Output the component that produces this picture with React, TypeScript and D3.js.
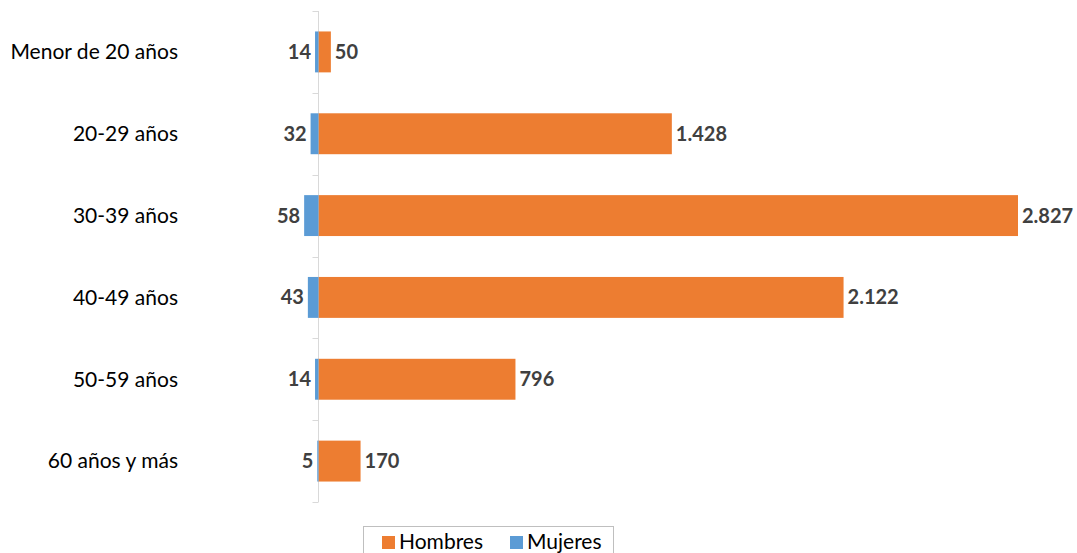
import React, { useEffect, useRef } from 'react';
import * as d3 from 'd3';

const categories = ['Menor de 20 años', '20-29 años', '30-39 años', '40-49 años', '50-59 años', '60 años y más'];
const hombres = [50, 1428, 2827, 2122, 796, 170];
const mujeres = [14, 32, 58, 43, 14, 5];
const seriesNames = ['Hombres', 'Mujeres'];

const W = 1077;
const H = 553;
const font = "Lato, 'Open Sans', sans-serif";

export default function App() {
  const ref = useRef<SVGSVGElement>(null);

  useEffect(() => {
    if (!ref.current) return;
    const svg = d3.select(ref.current);
    svg.selectAll('*').remove();

    const zero = 318.5;
    const x = d3.scaleLinear().domain([0, 2827]).range([zero, 1018]);
    const y = d3.scaleBand().domain(categories).range([11, 502]).paddingInner(0.5).paddingOuter(0.25);
    const fmt = (v: number) => d3.format(',')(v).replace(/,/g, '.');

    // axis
    svg.append('line')
      .attr('x1', zero).attr('x2', zero).attr('y1', 11).attr('y2', 502)
      .attr('stroke', '#d9d9d9').attr('stroke-width', 1);
    d3.range(categories.length + 1).forEach(i => {
      const ty = Math.round(11 + i * (491 / categories.length)) + 0.5;
      svg.append('line')
        .attr('x1', zero - 6).attr('x2', zero).attr('y1', ty).attr('y2', ty)
        .attr('stroke', '#d9d9d9').attr('stroke-width', 1);
    });

    // category labels
    svg.selectAll('.cat').data(categories).enter().append('text')
      .attr('x', 178).attr('y', d => y(d)! + y.bandwidth() / 2)
      .attr('dy', '0.35em').attr('text-anchor', 'end')
      .style('font-family', font).style('font-size', '21px').style('fill', '#000')
      .text(d => d);

    // hombres bars
    svg.selectAll('.h').data(hombres).enter().append('rect')
      .attr('x', x(0)).attr('y', (_, i) => y(categories[i])!)
      .attr('width', d => x(d) - x(0)).attr('height', y.bandwidth())
      .attr('fill', '#ED7D31');
    // mujeres bars (to the left)
    svg.selectAll('.m').data(mujeres).enter().append('rect')
      .attr('x', d => 2 * zero - x(d)).attr('y', (_, i) => y(categories[i])!)
      .attr('width', d => x(d) - x(0)).attr('height', y.bandwidth())
      .attr('fill', '#5B9BD5');

    // labels
    svg.selectAll('.hl').data(hombres).enter().append('text')
      .attr('x', d => x(d) + 4).attr('y', (_, i) => y(categories[i])! + y.bandwidth() / 2)
      .attr('dy', '0.35em')
      .style('font-family', font).style('font-size', '20px').style('font-weight', 'bold').style('fill', '#404040')
      .text(d => fmt(d));
    svg.selectAll('.ml').data(mujeres).enter().append('text')
      .attr('x', d => 2 * zero - x(d) - 4).attr('y', (_, i) => y(categories[i])! + y.bandwidth() / 2)
      .attr('dy', '0.35em').attr('text-anchor', 'end')
      .style('font-family', font).style('font-size', '20px').style('font-weight', 'bold').style('fill', '#404040')
      .text(d => fmt(d));

    // legend
    const lg = svg.append('g');
    lg.append('rect').attr('x', 363.5).attr('y', 526.5).attr('width', 250).attr('height', 40)
      .attr('fill', '#fff').attr('stroke', '#bfbfbf');
    const colors = ['#ED7D31', '#5B9BD5'];
    const lx = [382, 510];
    seriesNames.forEach((n, i) => {
      lg.append('rect').attr('x', lx[i]).attr('y', 536).attr('width', 13).attr('height', 13).attr('fill', colors[i]);
      lg.append('text').attr('x', lx[i] + 17).attr('y', 549)
        .style('font-family', font).style('font-size', '21px').style('fill', '#000').text(n);
    });
  }, []);

  return (
    <svg ref={ref} width={W} height={H}
      style={{ position: 'absolute', left: 0, top: 0, background: '#fff' }} />
  );
}
